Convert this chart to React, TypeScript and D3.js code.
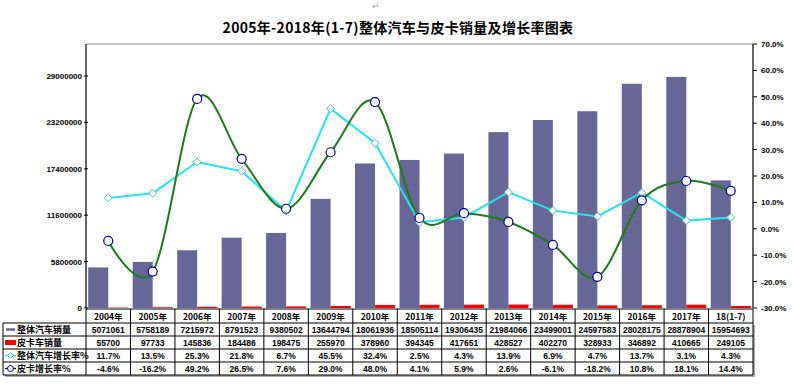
import React from "react";
import * as d3 from "d3";

const categories = [
  "2004年", "2005年", "2006年", "2007年", "2008年", "2009年", "2010年", "2011年",
  "2012年", "2013年", "2014年", "2015年", "2016年", "2017年", "18(1-7)",
];
const totalSales = [
  5071061, 5758189, 7215972, 8791523, 9380502, 13644794, 18061936, 18505114,
  19306435, 21984066, 23499001, 24597583, 28028175, 28878904, 15954693,
];
const pickupSales = [
  55700, 97733, 145836, 184486, 198475, 255970, 378960, 394345,
  417651, 428527, 402270, 328933, 346892, 410665, 249105,
];
const totalGrowth = [11.7, 13.5, 25.3, 21.8, 6.7, 45.5, 32.4, 2.5, 4.3, 13.9, 6.9, 4.7, 13.7, 3.1, 4.3];
const pickupGrowth = [-4.6, -16.2, 49.2, 26.5, 7.6, 29.0, 48.0, 4.1, 5.9, 2.6, -6.1, -18.2, 10.8, 18.1, 14.4];
const leftTicks = [0, 5800000, 11600000, 17400000, 23200000, 29000000];
const rightTicks = [-30, -20, -10, 0, 10, 20, 30, 40, 50, 60, 70];
const rowLabels = ["整体汽车销量", "皮卡车销量", "整体汽车增长率%", "皮卡增长率%"];

const W = 793;
const H = 388;
const left = 86;
const right = 753;
const top = 44;
const bottom = 308;

const PURPLE = "#666699";
const RED = "#ff0000";
const CYAN = "#22e5ee";
const GREEN = "#1f7a1f";
const NAVY = "#000080";

export default function App() {
  const x = d3.scaleBand<string>().domain(categories).range([left, right]).padding(0);
  const bw = x.bandwidth();
  const barW = bw * 0.45;
  const cx = (i: number) => (x(categories[i]) || 0) + bw / 2;
  const yL = d3.scaleLinear().domain([0, 33000000]).range([bottom, top]);
  const yR = d3.scaleLinear().domain([-30, 70]).range([bottom, top]);

  const straight = d3.line<number>().x((_d, i) => cx(i)).y((d) => yR(d));
  const smooth = d3
    .line<number>()
    .x((_d, i) => cx(i))
    .y((d) => yR(d))
    .curve(d3.curveCatmullRom.alpha(0));

  // table layout
  const tTop = 309;
  const headH = 14;
  const rowH = 13;
  const tLeft = 3;
  const rowsY = [0, 1, 2, 3].map((r) => tTop + headH + r * rowH);
  const tBottom = tTop + headH + 4 * rowH;
  const fmtPct = (v: number) => `${v.toFixed(1)}%`;
  const rows = [
    totalSales.map(String),
    pickupSales.map(String),
    totalGrowth.map(fmtPct),
    pickupGrowth.map(fmtPct),
  ];
  const numFont = "Liberation Sans, Arial, sans-serif";
  const cjkFont = "'Noto Sans CJK SC', sans-serif";

  const diamond = (px: number, py: number, r: number) =>
    `M${px},${py - r}L${px + r},${py}L${px},${py + r}L${px - r},${py}Z`;

  return (
    <svg width={W} height={H} style={{ position: "absolute", left: 0, top: 0, background: "#fff" }}>
      <text x={372} y={9} fontSize={9} fill="#999" fontFamily={numFont}>↵</text>
      <text
        x={398}
        y={33}
        textAnchor="middle"
        fontSize={14}
        fontWeight="bold"
        fontFamily={cjkFont}
        letterSpacing={0.3}
      >
        2005年-2018年(1-7)整体汽车与皮卡销量及增长率图表
      </text>

      {/* plot frame */}
      <line x1={left} x2={right} y1={top} y2={top} stroke="#888" />
      <line x1={left} x2={left} y1={top} y2={bottom} stroke="#000" strokeWidth={1.2} />
      <line x1={right} x2={right} y1={top} y2={bottom} stroke="#000" strokeWidth={1.2} />

      {/* left axis */}
      {leftTicks.map((t) => (
        <g key={t}>
          <line x1={left - 2} x2={left + 2} y1={yL(t)} y2={yL(t)} stroke="#000" />
          <text
            x={left - 4}
            y={yL(t) + 3}
            textAnchor="end"
            fontSize={8}
            fontWeight="bold"
            fontFamily={numFont}
          >
            {t}
          </text>
        </g>
      ))}

      {/* right axis */}
      {rightTicks.map((t) => (
        <g key={t}>
          <line x1={right} x2={right + 4} y1={yR(t)} y2={yR(t)} stroke="#000" />
          <text x={right + 8} y={yR(t) + 3} fontSize={8} fontWeight="bold" fontFamily={numFont}>
            {fmtPct(t)}
          </text>
        </g>
      ))}

      {/* bars */}
      {totalSales.map((v, i) => (
        <rect
          key={"p" + i}
          x={cx(i) - barW}
          y={yL(v)}
          width={barW}
          height={bottom - yL(v)}
          fill={PURPLE}
        />
      ))}
      {pickupSales.map((v, i) => (
        <rect
          key={"r" + i}
          x={cx(i)}
          y={yL(v)}
          width={barW}
          height={bottom - yL(v)}
          fill={RED}
        />
      ))}

      {/* lines */}
      <path d={straight(totalGrowth) || ""} fill="none" stroke={CYAN} strokeWidth={2} />
      <path d={smooth(pickupGrowth) || ""} fill="none" stroke={GREEN} strokeWidth={2} />
      {totalGrowth.map((v, i) => (
        <path key={"d" + i} d={diamond(cx(i), yR(v), 4)} fill="#fff" stroke="#48c4c4" strokeWidth={1} />
      ))}
      {pickupGrowth.map((v, i) => (
        <circle key={"c" + i} cx={cx(i)} cy={yR(v)} r={4.5} fill="#fff" stroke={NAVY} strokeWidth={1.2} />
      ))}

      {/* data table */}
      <rect x={tLeft + 2} y={tTop + headH + 2} width={right - tLeft} height={4 * rowH} fill="#aaa" />
      <rect x={tLeft} y={tTop + headH} width={right - tLeft} height={4 * rowH} fill="#fff" />
      <rect x={left} y={tTop} width={right - left} height={headH} fill="#fff" />
      <line x1={left} x2={right} y1={tTop} y2={tTop} stroke="#000" />
      {rowsY.map((yy) => (
        <line key={yy} x1={tLeft} x2={right} y1={yy} y2={yy} stroke="#000" />
      ))}
      <line x1={tLeft} x2={right} y1={tBottom} y2={tBottom} stroke="#000" />
      <line x1={tLeft} x2={tLeft} y1={tTop + headH} y2={tBottom} stroke="#000" />
      {categories.map((c, i) => (
        <line
          key={"v" + i}
          x1={x(c) || 0}
          x2={x(c) || 0}
          y1={tTop}
          y2={tBottom}
          stroke="#000"
        />
      ))}
      <line x1={right} x2={right} y1={tTop} y2={tBottom} stroke="#000" />
      {categories.map((c, i) => (
        <text
          key={"h" + i}
          x={cx(i)}
          y={tTop + 11}
          textAnchor="middle"
          fontSize={8.5}
          fontWeight="bold"
          fontFamily={cjkFont}
        >
          {c}
        </text>
      ))}
      {rows.map((vals, r) =>
        vals.map((v, i) => (
          <text
            key={`t${r}-${i}`}
            x={cx(i)}
            y={rowsY[r] + 10}
            textAnchor="middle"
            fontSize={8.5}
            fontWeight="bold"
            fontFamily={numFont}
          >
            {v}
          </text>
        )),
      )}

      {/* legend keys */}
      <line x1={6} x2={15} y1={rowsY[0] + 6.5} y2={rowsY[0] + 6.5} stroke={PURPLE} strokeWidth={2.5} />
      <rect x={5} y={rowsY[1] + 4} width={11} height={5} fill={RED} />
      <line x1={5} x2={16} y1={rowsY[2] + 6.5} y2={rowsY[2] + 6.5} stroke={CYAN} strokeWidth={1.5} />
      <path d={diamond(10.5, rowsY[2] + 6.5, 3)} fill="#fff" stroke="#48c4c4" />
      <line x1={5} x2={16} y1={rowsY[3] + 6.5} y2={rowsY[3] + 6.5} stroke={NAVY} strokeWidth={1.2} />
      <circle cx={10.5} cy={rowsY[3] + 6.5} r={3} fill="#fff" stroke={NAVY} />
      {rowLabels.map((l, r) => (
        <text
          key={l}
          x={17}
          y={rowsY[r] + 10}
          fontSize={9}
          fontWeight="bold"
          fontFamily={cjkFont}
        >
          {l}
        </text>
      ))}
    </svg>
  );
}
